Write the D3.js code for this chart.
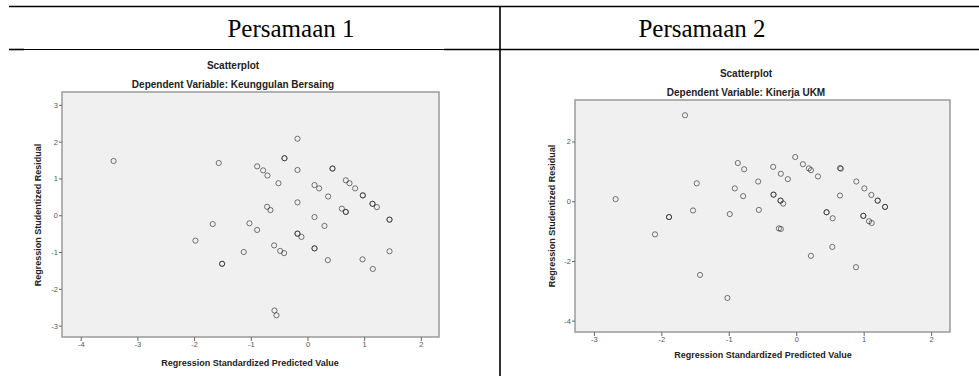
<!DOCTYPE html>
<html>
<head>
<meta charset="utf-8">
<script src="https://cdn.jsdelivr.net/npm/d3@7"></script>
<style>
	body { margin: 0; background: #fff; }
	svg { display: block; }
</style>
</head>
<body>
<div id="chart"></div>
<script>
// Persamaan 1 - Dependent Variable: Keunggulan Bersaing
var leftX = [-3.42, -1.565, -0.176, -0.406, -0.406, -0.888, -0.782, -0.706, -0.176, 0.441, 0.441,
	-0.512, 0.124, 0.206, 0.676, 0.741, 0.841, 0.365, 0.976, 0.976, -0.176, -0.712, -0.653,
	0.606, 0.676, 0.676, 1.147, 1.147, 1.224, 1.447, 1.447, 0.124, -1.671, -1.024, -0.888,
	0.3, -0.176, -0.176, -0.106, -1.976, -0.588, -0.482, -0.412, -1.124, 0.124, 0.124, 1.447,
	-1.506, -1.506, 0.359, 0.971, 1.153, -0.582, -0.547];
var leftY = [1.475, 1.42, 2.08, 1.55, 1.55, 1.33, 1.22, 1.08, 1.23, 1.27, 1.27,
	0.87, 0.82, 0.73, 0.95, 0.87, 0.73, 0.51, 0.54, 0.54, 0.35, 0.23, 0.14,
	0.18, 0.09, 0.09, 0.31, 0.31, 0.22, -0.12, -0.12, -0.05, -0.24, -0.22, -0.40,
	-0.29, -0.50, -0.50, -0.59, -0.69, -0.82, -0.97, -1.03, -1.0, -0.90, -0.90, -0.98,
	-1.32, -1.32, -1.22, -1.20, -1.46, -2.59, -2.72];

// Persamaan 2 - Dependent Variable: Kinerja UKM
var rightX = [-1.649, -2.678, -2.094, -1.886, -1.886, -1.530, -1.475, -1.426, -1.020, -0.985,
	-0.911, -0.866, -0.772, -0.787, -0.564, -0.554, -0.342, -0.337, -0.337, -0.228,
	-0.233, -0.233, -0.193, -0.124, -0.257, -0.228, -0.015, 0.099, 0.188, 0.218, 0.322,
	0.218, 0.450, 0.450, 0.540, 0.535, 0.649, 0.663, 0.649, 0.891, 1.010, 1.114,
	1.208, 1.208, 1.317, 1.317, 0.995, 0.995, 1.079, 1.119, 0.886];
var rightY = [2.88, 0.07, -1.11, -0.53, -0.53, -0.31, 0.60, -2.47, -3.24, -0.43,
	0.43, 1.28, 1.07, 0.17, 0.66, -0.29, 1.15, 0.22, 0.22, 0.92,
	0.02, 0.02, -0.08, 0.74, -0.91, -0.93, 1.48, 1.24, 1.10, 1.04, 0.83,
	-1.83, -0.37, -0.37, -0.57, -1.53, 1.11, 1.09, 0.19, 0.66, 0.43, 0.21,
	0.02, 0.02, -0.19, -0.19, -0.49, -0.49, -0.67, -0.73, -2.21];

var leftXTicks = [-4, -3, -2, -1, 0, 1, 2];
var leftYTicks = [-3, -2, -1, 0, 1, 2, 3];
var rightXTicks = [-3, -2, -1, 0, 1, 2];
var rightYTicks = [-4, -2, 0, 2];

var headers = ["Persamaan 1", "Persamaan 2"];
var dependents = ["Dependent Variable: Keunggulan Bersaing", "Dependent Variable: Kinerja UKM"];

var svg = d3.select("#chart").append("svg").attr("width", 979).attr("height", 376);

function drawTable(svg) {
	// borders of the word table around both plots
	var lines = [
		[9, 6.5, 979, 6.5, 1.6],
		[9, 49.5, 24, 49.5, 1.6],
		[24, 49.5, 444, 49.5, 1],
		[444, 49.5, 979, 49.5, 1.6],
		[500, 6, 500, 376, 1.6]
	];
	for (var i = 0; i < lines.length; i++) {
		svg.append("line").attr("x1", lines[i][0]).attr("y1", lines[i][1])
			.attr("x2", lines[i][2]).attr("y2", lines[i][3])
			.attr("stroke", "#000").attr("stroke-width", lines[i][4]);
	}
	var cx = [291, 702];
	for (var j = 0; j < headers.length; j++) {
		svg.append("text").attr("x", cx[j]).attr("y", 28).attr("dy", "0.35em")
			.attr("text-anchor", "middle").attr("font-family", "Liberation Serif")
			.attr("font-size", 25).attr("fill", "#000").text(headers[j]);
	}
}

function drawScatter(svg, cfg) {
	var x = d3.scaleLinear().domain(cfg.xDomain).range([cfg.left, cfg.right]);
	var y = d3.scaleLinear().domain(cfg.yDomain).range([cfg.bottom, cfg.top]);
	var g = svg.append("g");

	g.append("text").attr("x", cfg.titleX).attr("y", cfg.titleY).attr("dy", "0.35em")
		.attr("text-anchor", "middle").attr("font-family", "Liberation Sans")
		.attr("font-weight", "bold").attr("font-size", 10).attr("fill", "#222").text("Scatterplot");
	g.append("text").attr("x", cfg.titleX).attr("y", cfg.titleY + 19).attr("dy", "0.35em")
		.attr("text-anchor", "middle").attr("font-family", "Liberation Sans")
		.attr("font-weight", "bold").attr("font-size", 10).attr("fill", "#222").text(cfg.dependent);

	g.append("rect").attr("x", cfg.left).attr("y", cfg.top)
		.attr("width", cfg.right - cfg.left).attr("height", cfg.bottom - cfg.top)
		.attr("fill", "#f0f0f0").attr("stroke", "#9a9a9a").attr("stroke-width", 1.5);

	var fmt = function(d) { return String(d); };
	var xAxis = g.append("g").attr("transform", "translate(0," + cfg.bottom + ")")
		.call(d3.axisBottom(x).tickValues(cfg.xTicks).tickSize(4).tickPadding(1).tickFormat(fmt));
	var yAxis = g.append("g").attr("transform", "translate(" + cfg.left + ",0)")
		.call(d3.axisLeft(y).tickValues(cfg.yTicks).tickSize(3).tickPadding(1).tickFormat(fmt));
	[xAxis, yAxis].forEach(function(a) {
		a.select(".domain").remove();
		a.selectAll(".tick line").attr("stroke", "#666");
		a.selectAll(".tick text").attr("font-family", "Liberation Sans").attr("font-size", 7.5).attr("fill", "#555");
	});

	var pts = cfg.xs.map(function(v, i) { return [v, cfg.ys[i]]; });
	g.append("g").selectAll("circle").data(pts).enter().append("circle")
		.attr("cx", function(d) { return x(d[0]); })
		.attr("cy", function(d) { return y(d[1]); })
		.attr("r", 2.6).attr("fill", "none")
		.attr("stroke", "#222").attr("stroke-opacity", 0.6).attr("stroke-width", 1);

	g.append("text").attr("x", cfg.xTitleX).attr("y", cfg.xTitleY).attr("dy", "0.35em")
		.attr("text-anchor", "middle").attr("font-family", "Liberation Sans")
		.attr("font-weight", "bold").attr("font-size", 9).attr("fill", "#222")
		.text("Regression Standardized Predicted Value");
	g.append("text").attr("transform", "translate(" + cfg.yTitleX + "," + cfg.yTitleY + ") rotate(-90)")
		.attr("dy", "0.35em").attr("text-anchor", "middle").attr("font-family", "Liberation Sans")
		.attr("font-weight", "bold").attr("font-size", 9).attr("fill", "#222")
		.text("Regression Studentized Residual");
}

try {
	drawTable(svg);
	drawScatter(svg, {
		xs: leftX, ys: leftY, xTicks: leftXTicks, yTicks: leftYTicks, dependent: dependents[0],
		xDomain: [-4.33, 2.32], yDomain: [-3.31, 3.35],
		left: 62, right: 439, top: 92, bottom: 337,
		titleX: 233, titleY: 65, xTitleX: 250, xTitleY: 363, yTitleX: 38, yTitleY: 215
	});
	drawScatter(svg, {
		xs: rightX, ys: rightY, xTicks: rightXTicks, yTicks: rightYTicks, dependent: dependents[1],
		xDomain: [-3.28, 2.28], yDomain: [-4.38, 3.39],
		left: 575, right: 950, top: 100, bottom: 332,
		titleX: 746, titleY: 73, xTitleX: 763, xTitleY: 355, yTitleX: 552, yTitleY: 216
	});
} catch (error) {
	console.log("Function :: draw Error: " + error);
}
</script>
</body>
</html>
